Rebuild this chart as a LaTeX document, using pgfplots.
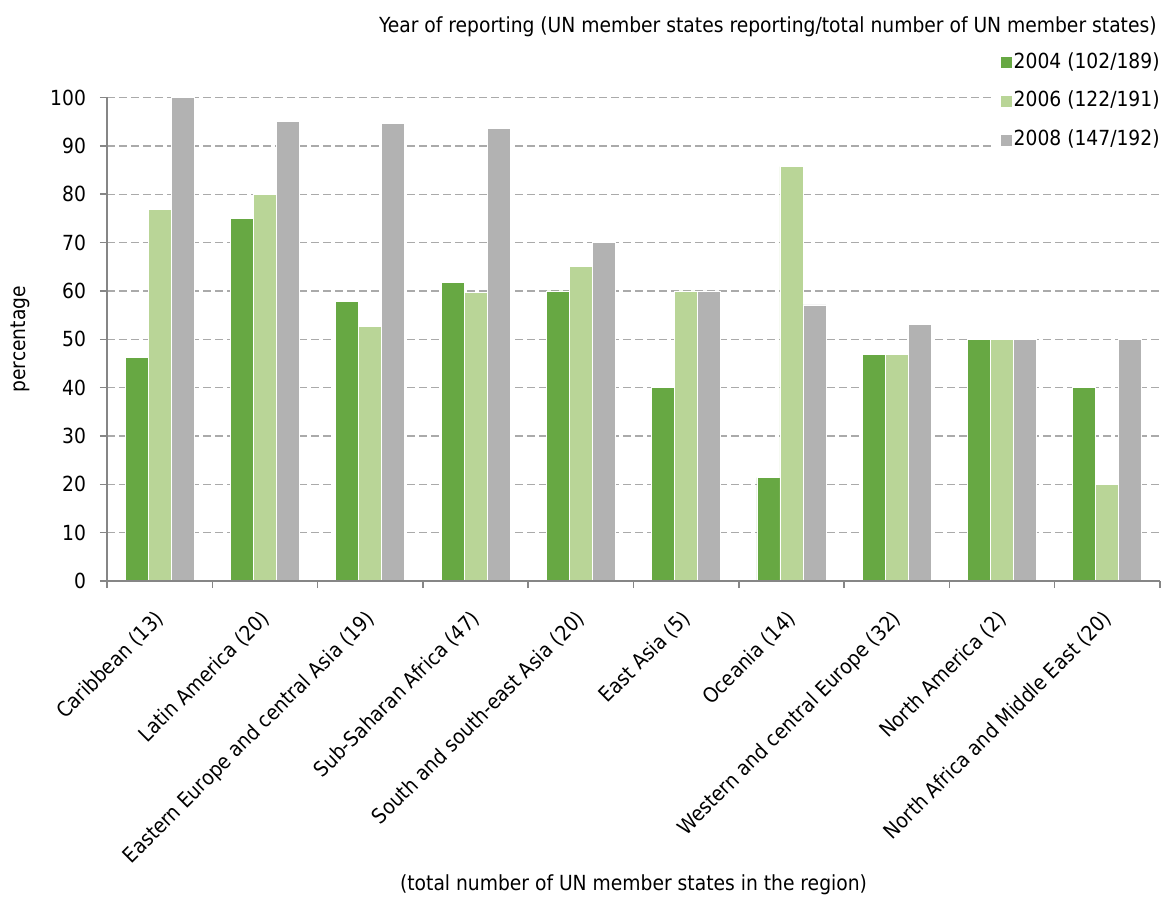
\documentclass[border=0pt]{standalone}
\usepackage{pgfplots}
\pgfplotsset{compat=1.18}
\usepackage{fontspec}
\setmainfont{DejaVu Sans Condensed}
\definecolor{gA}{RGB}{103,168,67}
\definecolor{gB}{RGB}{185,213,151}
\definecolor{gC}{RGB}{178,178,178}
\definecolor{axgray}{RGB}{134,134,134}
\definecolor{gridgray}{RGB}{170,170,170}
\newcommand{\cf}{\fontsize{10.4}{12.5}\selectfont}
\begin{document}
\begin{tikzpicture}
\path[use as bounding box] (-53.5pt,-162pt) rectangle (529pt,290.5pt);
\begin{axis}[
  scale only axis, width=526.5pt, height=241.75pt,
  clip=false,
  xmin=-0.5, xmax=9.5, ymin=0, ymax=100,
  ybar=0pt, bar width=0.2185,
  axis lines*=left,
  axis line style={draw=axgray, line width=0.75pt},
  tick align=outside, major tick length=3.5pt,
  tick style={draw=axgray, line width=0.75pt},
  ytick={0,10,...,100},
  ymajorgrids, grid style={draw=gridgray, line width=0.7pt, dash pattern=on 4pt off 2pt},
  xtick={-0.5,0.5,...,9.5},
  xticklabels={,,,,,,,,,,,},
  extra x ticks={0,...,9},
  extra x tick labels={Caribbean (13),Latin America (20),Eastern Europe and central Asia (19),Sub-Saharan Africa (47),South and south-east Asia (20),East Asia (5),Oceania (14),Western and central Europe (32),North America (2),North Africa and Middle East (20)},
  extra x tick style={grid=none, major tick length=0pt},
  /pgf/number format/assume math mode=true,
  tick label style={font=\cf},
  xticklabel shift=4pt,
  xticklabel style={rotate=45, anchor=north east, inner sep=2pt, xshift=-7pt, yshift=-2.8pt},
  yticklabel style={xshift=-3.5pt},
  ylabel={percentage},
  ylabel style={at={(axis description cs:-0.0826,0.5)}, anchor=center, font=\cf},
  xlabel={(total number of UN member states in the region)},
  xlabel style={at={(axis description cs:0.5,0)}, anchor=center, yshift=-152pt, font=\cf},
  legend image code/.code={\draw[#1,draw=none] (0pt,-2.75pt) rectangle (5.5pt,2.75pt);},
  legend cell align=left,
  legend style={draw=none, fill=white, at={(axis description cs:1,1)}, anchor=east, yshift=-2pt, xshift=6pt,
    inner xsep=5pt, inner ysep=2pt, row sep=8pt, font=\cf,
    nodes={inner sep=1pt, text height=7.3pt, text depth=2pt}},
]
\addplot[fill=gA, draw=white, line width=0.4pt] coordinates {(0,46.2) (1,75) (2,57.9) (3,61.7) (4,60) (5,40) (6,21.4) (7,46.9) (8,50) (9,40)};
\addplot[fill=gB, draw=white, line width=0.4pt] coordinates {(0,76.9) (1,80) (2,52.6) (3,59.6) (4,65) (5,60) (6,85.7) (7,46.9) (8,50) (9,20)};
\addplot[fill=gC, draw=white, line width=0.4pt] coordinates {(0,100) (1,95) (2,94.7) (3,93.6) (4,70) (5,60) (6,57.1) (7,53.1) (8,50) (9,50)};
\legend{2004 (102/189),2006 (122/191),2008 (147/192)}
\addplot[sharp plot, forget plot, draw=axgray, line width=0.75pt, mark=none] coordinates {(-0.5,0) (9.5,0)};
\node[anchor=east, inner sep=0pt, font=\cf, yshift=35.25pt, xshift=-1.5pt] at (rel axis cs:1,1) {Year of reporting (UN member states reporting/total number of UN member states)};
\end{axis}
\end{tikzpicture}
\end{document}
